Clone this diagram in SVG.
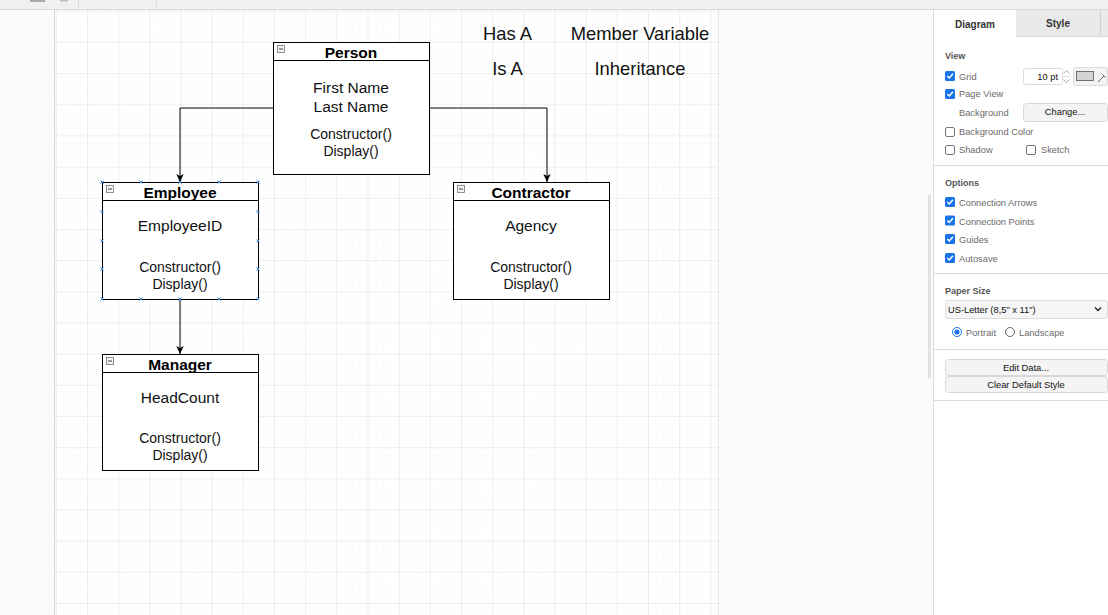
<svg xmlns="http://www.w3.org/2000/svg" width="1108" height="615" viewBox="0 0 1108 615">
<style>
.node{fill:#fff;stroke:#000;stroke-width:1}
.sep{stroke:#000;stroke-width:1}
.ttl{font-family:"Liberation Sans",Arial,sans-serif;font-weight:bold;font-size:15.5px;fill:#000;text-anchor:middle}
.attr{font-family:"Liberation Sans",Arial,sans-serif;font-size:15.5px;fill:#111;text-anchor:middle}
.meth{font-family:"Liberation Sans",Arial,sans-serif;font-size:14px;fill:#111;text-anchor:middle}
.free{font-family:"Liberation Sans",Arial,sans-serif;font-size:18.4px;fill:#111;text-anchor:middle}
.edge{fill:none;stroke:#000;stroke-width:1}
.col{fill:#f2f2f2;stroke:#777;stroke-width:0.8}
.hdl{stroke:#3b86d8;stroke-width:1}
.pl{font-family:"Liberation Sans",Arial,sans-serif;font-size:9.3px;fill:#6a6a6a}
.ph{font-family:"Liberation Sans",Arial,sans-serif;font-size:9px;font-weight:bold;fill:#555}
.pb{font-family:"Liberation Sans",Arial,sans-serif;font-size:9.3px;fill:#111}
.btn{fill:#f4f4f4;stroke:#d8d8d8;stroke-width:1}
.cb{fill:#1a73e8}
.cbu{fill:#fff;stroke:#777;stroke-width:1}
.psep{stroke:#dcdcdc;stroke-width:1}
</style>
<defs>
<pattern id="minor" patternUnits="userSpaceOnUse" x="55.8" y="10.8" width="7.7925" height="7.7925">
<path d="M7.7925 0 L0 0 0 7.7925" fill="none" stroke="#f8f8f8" stroke-width="1"/>
</pattern>
<pattern id="major" patternUnits="userSpaceOnUse" x="55.8" y="10.8" width="31.17" height="31.17">
<path d="M31.17 0 L0 0 0 31.17" fill="none" stroke="#e2e2e2" stroke-width="1"/>
</pattern>
<marker id="arr" markerUnits="userSpaceOnUse" markerWidth="9" markerHeight="9" refX="8" refY="4" orient="auto">
<path d="M0,0.3 L8,4 L0,7.7 L2,4 Z" fill="#000"/>
</marker>
</defs>

<!-- app background -->
<rect x="0" y="0" width="1108" height="615" fill="#fafbfc"/>
<rect x="0" y="0" width="1108" height="9.5" fill="#f0f0f0"/>
<line x1="0" y1="9.5" x2="1108" y2="9.5" stroke="#d9d9d9"/>
<rect x="30" y="0" width="15" height="2" fill="#aaa"/>
<rect x="60" y="0" width="8" height="1.5" fill="#bbb"/>
<line x1="78.5" y1="0" x2="78.5" y2="8" stroke="#ddd"/>
<line x1="156.5" y1="0" x2="156.5" y2="8" stroke="#ddd"/>

<!-- page -->
<rect x="55" y="10" width="663" height="605" fill="#fff"/>
<rect x="55" y="10" width="663" height="605" fill="url(#minor)"/>
<rect x="55" y="10" width="663" height="605" fill="url(#major)"/>
<line x1="54.5" y1="10" x2="54.5" y2="615" stroke="#d5d5d5"/>
<line x1="718.5" y1="10" x2="718.5" y2="615" stroke="#e6e6e6"/>

<!-- scrollbar -->
<rect x="928" y="195" width="3" height="183" fill="#e3e3e3"/>

<!-- connectors -->
<g id="connectors">
<path class="edge" d="M273,108 H180 V182" marker-end="url(#arr)"/>
<path class="edge" d="M429,108 H547 V182" marker-end="url(#arr)"/>
<path class="edge" d="M180,299 V354" marker-end="url(#arr)"/>
</g>

<!-- Person -->
<g id="person">
<rect class="node" x="273.5" y="42.5" width="156" height="132"/>
<line class="sep" x1="273.5" y1="60.5" x2="429.5" y2="60.5"/>
<rect class="col" x="277.5" y="45.5" width="7" height="7"/>
<line x1="279" y1="49" x2="283" y2="49" stroke="#444"/>
<text class="ttl" x="351" y="58">Person</text>
<text class="attr" x="351" y="93">First Name</text>
<text class="attr" x="351" y="112">Last Name</text>
<text class="meth" x="351" y="139">Constructor()</text>
<text class="meth" x="351" y="156">Display()</text>
</g>

<!-- Employee -->
<g id="employee">
<rect class="node" x="102.5" y="182.5" width="156" height="117"/>
<line class="sep" x1="102.5" y1="200.5" x2="258.5" y2="200.5"/>
<rect class="col" x="106.5" y="185.5" width="7" height="7"/>
<line x1="108" y1="189" x2="112" y2="189" stroke="#444"/>
<text class="ttl" x="180" y="198">Employee</text>
<text class="attr" x="180" y="231">EmployeeID</text>
<text class="meth" x="180" y="272">Constructor()</text>
<text class="meth" x="180" y="289">Display()</text>
<g id="employee-handles" class="hdl">
<path d="M100.5,180.5 l3,3 m0,-3 l-3,3 M139.5,180.5 l3,3 m0,-3 l-3,3 M178.5,180.5 l3,3 m0,-3 l-3,3 M217.5,180.5 l3,3 m0,-3 l-3,3 M256.5,180.5 l3,3 m0,-3 l-3,3"/>
<path d="M100.5,297.5 l3,3 m0,-3 l-3,3 M139.5,297.5 l3,3 m0,-3 l-3,3 M178.5,297.5 l3,3 m0,-3 l-3,3 M217.5,297.5 l3,3 m0,-3 l-3,3 M256.5,297.5 l3,3 m0,-3 l-3,3"/>
<path d="M100.5,210 l3,3 m0,-3 l-3,3 M100.5,239.5 l3,3 m0,-3 l-3,3 M100.5,267.5 l3,3 m0,-3 l-3,3"/>
<path d="M256.5,210 l3,3 m0,-3 l-3,3 M256.5,239.5 l3,3 m0,-3 l-3,3 M256.5,267.5 l3,3 m0,-3 l-3,3"/>
</g>
</g>

<!-- Contractor -->
<g id="contractor">
<rect class="node" x="453.5" y="182.5" width="156" height="117"/>
<line class="sep" x1="453.5" y1="200.5" x2="609.5" y2="200.5"/>
<rect class="col" x="457.5" y="185.5" width="7" height="7"/>
<line x1="459" y1="189" x2="463" y2="189" stroke="#444"/>
<text class="ttl" x="531" y="198">Contractor</text>
<text class="attr" x="531" y="231">Agency</text>
<text class="meth" x="531" y="272">Constructor()</text>
<text class="meth" x="531" y="289">Display()</text>
</g>

<!-- Manager -->
<g id="manager">
<rect class="node" x="102.5" y="354.5" width="156" height="116"/>
<line class="sep" x1="102.5" y1="372.5" x2="258.5" y2="372.5"/>
<rect class="col" x="106.5" y="357.5" width="7" height="7"/>
<line x1="108" y1="361" x2="112" y2="361" stroke="#444"/>
<text class="ttl" x="180" y="370">Manager</text>
<text class="attr" x="180" y="403">HeadCount</text>
<text class="meth" x="180" y="443">Constructor()</text>
<text class="meth" x="180" y="460">Display()</text>
</g>

<!-- free labels -->
<g id="label-has-a"><text class="free" x="507.5" y="40">Has A</text></g>
<g id="label-member-variable"><text class="free" x="640" y="40">Member Variable</text></g>
<g id="label-is-a"><text class="free" x="507.5" y="75">Is A</text></g>
<g id="label-inheritance"><text class="free" x="640" y="75">Inheritance</text></g>

<!-- right format panel -->
<g id="format-panel">
<rect x="933" y="10" width="175" height="605" fill="#fff"/>
<line x1="933.5" y1="10" x2="933.5" y2="615" stroke="#dadce0"/>
<rect x="1016" y="10" width="84" height="27" fill="#e9e9e9"/>
<rect x="1101" y="10" width="7" height="27" fill="#e9e9e9"/>
<line x1="1100.5" y1="10" x2="1100.5" y2="37" stroke="#d0d0d0"/>
<line x1="1016" y1="36.5" x2="1108" y2="36.5" stroke="#dcdcdc"/>
<text x="975" y="28" font-family="Liberation Sans, Arial, sans-serif" font-size="10px" font-weight="bold" fill="#333" text-anchor="middle">Diagram</text>
<text x="1058" y="27" font-family="Liberation Sans, Arial, sans-serif" font-size="10px" font-weight="bold" fill="#333" text-anchor="middle">Style</text>

<text class="ph" x="945" y="59">View</text>
<rect class="cb" x="945" y="71" width="10" height="10" rx="1.5"/>
<path d="M947.3,76 l2,2 l3.6,-4.2" fill="none" stroke="#fff" stroke-width="1.5"/>
<text class="pl" x="959" y="80">Grid</text>
<rect x="1023.5" y="68.5" width="39" height="16" fill="#fff" stroke="#dcdcdc" rx="2"/>
<text class="pb" x="1058" y="80" text-anchor="end">10 pt</text>
<path d="M1063.5,73.5 l3,-3 l3,3 M1063.5,79.5 l3,3 l3,-3" fill="none" stroke="#999" stroke-width="0.8"/>
<line x1="1063.5" y1="76.5" x2="1069.5" y2="76.5" stroke="#ccc" stroke-width="0.6"/>
<rect x="1073.5" y="67.5" width="34" height="18" fill="#f3f3f3" stroke="#dcdcdc" rx="2"/>
<rect x="1076.5" y="71.5" width="17" height="9" fill="#d3d3d3" stroke="#555" stroke-width="0.8"/>
<path d="M1098,82 l6,-6 m-1.5,-1.5 l3,3" fill="none" stroke="#666" stroke-width="1"/>

<rect class="cb" x="945" y="89" width="10" height="10" rx="1.5"/>
<path d="M947.3,94 l2,2 l3.6,-4.2" fill="none" stroke="#fff" stroke-width="1.5"/>
<text class="pl" x="959" y="97">Page View</text>
<text class="pl" x="959" y="116">Background</text>
<rect class="btn" x="1023.5" y="103.5" width="84" height="18" rx="3"/>
<text class="pb" x="1065" y="115" text-anchor="middle">Change...</text>

<rect class="cbu" x="945.5" y="127.5" width="9" height="9" rx="1.5"/>
<text class="pl" x="959" y="135">Background Color</text>
<rect class="cbu" x="945.5" y="145.5" width="9" height="9" rx="1.5"/>
<text class="pl" x="959" y="153">Shadow</text>
<rect class="cbu" x="1026.5" y="145.5" width="9" height="9" rx="1.5"/>
<text class="pl" x="1041" y="153">Sketch</text>
<line class="psep" x1="933" y1="165.5" x2="1108" y2="165.5"/>

<text class="ph" x="945" y="186">Options</text>
<rect class="cb" x="945" y="197" width="10" height="10" rx="1.5"/>
<path d="M947.3,202 l2,2 l3.6,-4.2" fill="none" stroke="#fff" stroke-width="1.5"/>
<text class="pl" x="959" y="206">Connection Arrows</text>
<rect class="cb" x="945" y="215.5" width="10" height="10" rx="1.5"/>
<path d="M947.3,220.5 l2,2 l3.6,-4.2" fill="none" stroke="#fff" stroke-width="1.5"/>
<text class="pl" x="959" y="224.5">Connection Points</text>
<rect class="cb" x="945" y="234" width="10" height="10" rx="1.5"/>
<path d="M947.3,239 l2,2 l3.6,-4.2" fill="none" stroke="#fff" stroke-width="1.5"/>
<text class="pl" x="959" y="243">Guides</text>
<rect class="cb" x="945" y="253" width="10" height="10" rx="1.5"/>
<path d="M947.3,258 l2,2 l3.6,-4.2" fill="none" stroke="#fff" stroke-width="1.5"/>
<text class="pl" x="959" y="262">Autosave</text>
<line class="psep" x1="933" y1="273.5" x2="1108" y2="273.5"/>

<text class="ph" x="945" y="294">Paper Size</text>
<rect x="945.5" y="300.5" width="162" height="18" fill="#f5f5f5" stroke="#dcdcdc" rx="2"/>
<text class="pb" x="948" y="313">US-Letter (8,5" x 11")</text>
<path d="M1095,307.5 l3,3 l3,-3" fill="none" stroke="#222" stroke-width="1.4"/>
<circle cx="957" cy="332" r="4.5" fill="#fff" stroke="#1a73e8" stroke-width="1"/>
<circle cx="957" cy="332" r="2.6" fill="#1a73e8"/>
<text class="pl" x="966" y="336">Portrait</text>
<circle cx="1010" cy="332" r="4.5" fill="#fff" stroke="#666" stroke-width="1"/>
<text class="pl" x="1019" y="336">Landscape</text>
<line class="psep" x1="933" y1="349.5" x2="1108" y2="349.5"/>

<rect class="btn" x="945.5" y="359.5" width="162" height="16" rx="3"/>
<text class="pb" x="1026" y="370.5" text-anchor="middle">Edit Data...</text>
<rect class="btn" x="945.5" y="376.5" width="162" height="16" rx="3"/>
<text class="pb" x="1026" y="387.5" text-anchor="middle">Clear Default Style</text>
<line class="psep" x1="933" y1="400.5" x2="1108" y2="400.5"/>
</g>
</svg>
